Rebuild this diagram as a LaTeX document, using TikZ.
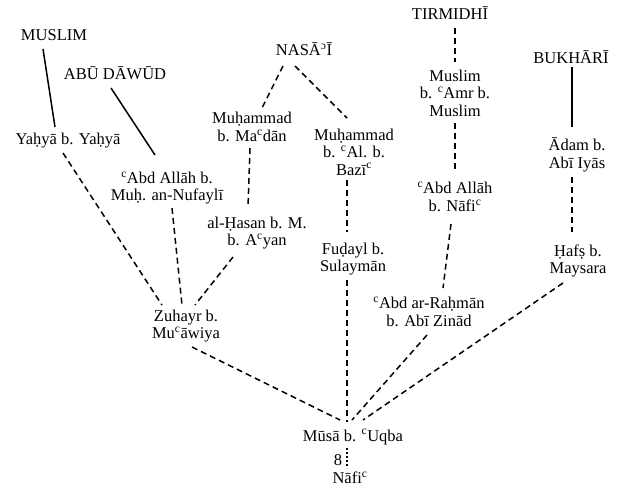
\documentclass[tikz,border=0pt]{standalone}
\usepackage{fontspec}
\setmainfont{Liberation Serif}
\usetikzlibrary{calc}
\newcommand\ayn{\textsuperscript{c}}
\newcommand\hamza{\textsuperscript{ɔ}}
\begin{document}
\begin{tikzpicture}[x=1pt,y=-1pt,
  lbl/.style={align=center,inner sep=0pt,font=\fontsize{16.5}{17.5}\selectfont},
  solidlink/.style={line width=1.5pt},
  dashlink/.style={line width=1.5pt,dash pattern=on 6pt off 4pt},
  dotlink/.style={line width=1.5pt,dash pattern=on 2pt off 2pt}]
\useasboundingbox (0,0) rectangle (618,497);
% collectors
\node[lbl] (muslimA)  at (54,35)  {MUSLIM};
\node[lbl] (abu)      at (115,73) {ABŪ DĀWŪD};
\node[lbl] (nasai)    at (304,49) {NASĀ\hamza Ī};
\node[lbl] (tirmidhi) at (450,13) {TIRMIDHĪ};
\node[lbl] (bukhari)  at (571,57) {BUKHĀRĪ};
% transmitters
\node[lbl] (yahya)    at (68,141)  {Yaḥyā b. Yaḥyā};
\node[lbl] (nufayli)  at (167,188) {\ayn Abd Allāh b.\\Muḥ. an-Nufaylī};
\node[lbl] (madan)    at (252,127) {Muḥammad\\b. Ma\ayn dān};
\node[lbl] (bazi)     at (354,152) {Muḥammad\\b. \ayn Al. b.\\Bazī\ayn};
\node[lbl] (muslimB)  at (455,93)  {Muslim\\b. \ayn Amr b.\\Muslim};
\node[lbl] (nafiB)    at (455,197) {\ayn Abd Allāh\\b. Nāfi\ayn};
\node[lbl] (adam)     at (577,155) {Ādam b.\\Abī Iyās};
\node[lbl] (hasan)    at (257,233) {al-Ḥasan b. M.\\b. A\ayn yan};
\node[lbl] (fudayl)   at (353,259) {Fuḍayl b.\\Sulaymān};
\node[lbl] (rahman)   at (429,312) {\ayn Abd ar-Raḥmān\\b. Abī Zinād};
\node[lbl] (hafs)     at (578,261) {Ḥafṣ b.\\Maysara};
\node[lbl] (zuhayr)   at (186,326) {Zuhayr b.\\Mu\ayn āwiya};
\node[lbl] (musa)     at (353,437) {Mūsā b. \ayn Uqba};
\node[lbl] (eight)    at (338,460) {8};
\node[lbl] (nafi)     at (350,478) {Nāfi\ayn};
% links
\draw[solidlink] ($(muslimA)+(-11,14)$) -- ($(yahya)+(-13,-14)$);
\draw[solidlink] ($(abu)+(-4,15)$) -- ($(nufayli)+(-12,-33)$);
\draw[dashlink] ($(nasai)+(-21,17)$) -- ($(madan)+(10,-19)$);
\draw[dashlink] ($(nasai)+(-9,17)$) -- ($(bazi)+(-7,-34)$);
\draw[dashlink] ($(madan)+(-2,21)$) -- ($(hasan)+(-9,-26)$);
\draw[dashlink] ($(bazi)+(-7,28)$) -- ($(fudayl)+(-6,-27)$);
\draw[dashlink] ($(fudayl)+(-6,21)$) -- ($(musa)+(-6,-15)$);
\draw[dashlink] ($(tirmidhi)+(5,15)$) -- ($(muslimB)+(0,-31)$);
\draw[dashlink] ($(muslimB)+(0,30)$) -- ($(nafiB)+(0,-25)$);
\draw[dashlink] ($(nafiB)+(-4,27)$) -- ($(rahman)+(14,-24)$);
\draw[solidlink] ($(bukhari)+(1,10)$) -- ($(adam)+(-5,-28)$);
\draw[dashlink] ($(adam)+(-5,22)$) -- ($(hafs)+(-6,-29)$);
\draw[dashlink] ($(hafs)+(-15,22)$) -- ($(musa)+(10,-17)$);
\draw[dashlink] ($(rahman)+(-2,23)$) -- ($(musa)+(-1,-17)$);
\draw[dashlink] ($(zuhayr)+(6,21)$) -- ($(musa)+(-13,-17)$);
\draw[dashlink] ($(yahya)+(-5,12)$) -- ($(zuhayr)+(-24,-21)$);
\draw[dashlink] ($(nufayli)+(5,20)$) -- ($(zuhayr)+(-4,-21)$);
\draw[dashlink] ($(hasan)+(-24,24)$) -- ($(zuhayr)+(9,-21)$);
\draw[dotlink] ($(musa)+(-6,11)$) -- ($(nafi)+(-3,-10)$);
\end{tikzpicture}
\end{document}
